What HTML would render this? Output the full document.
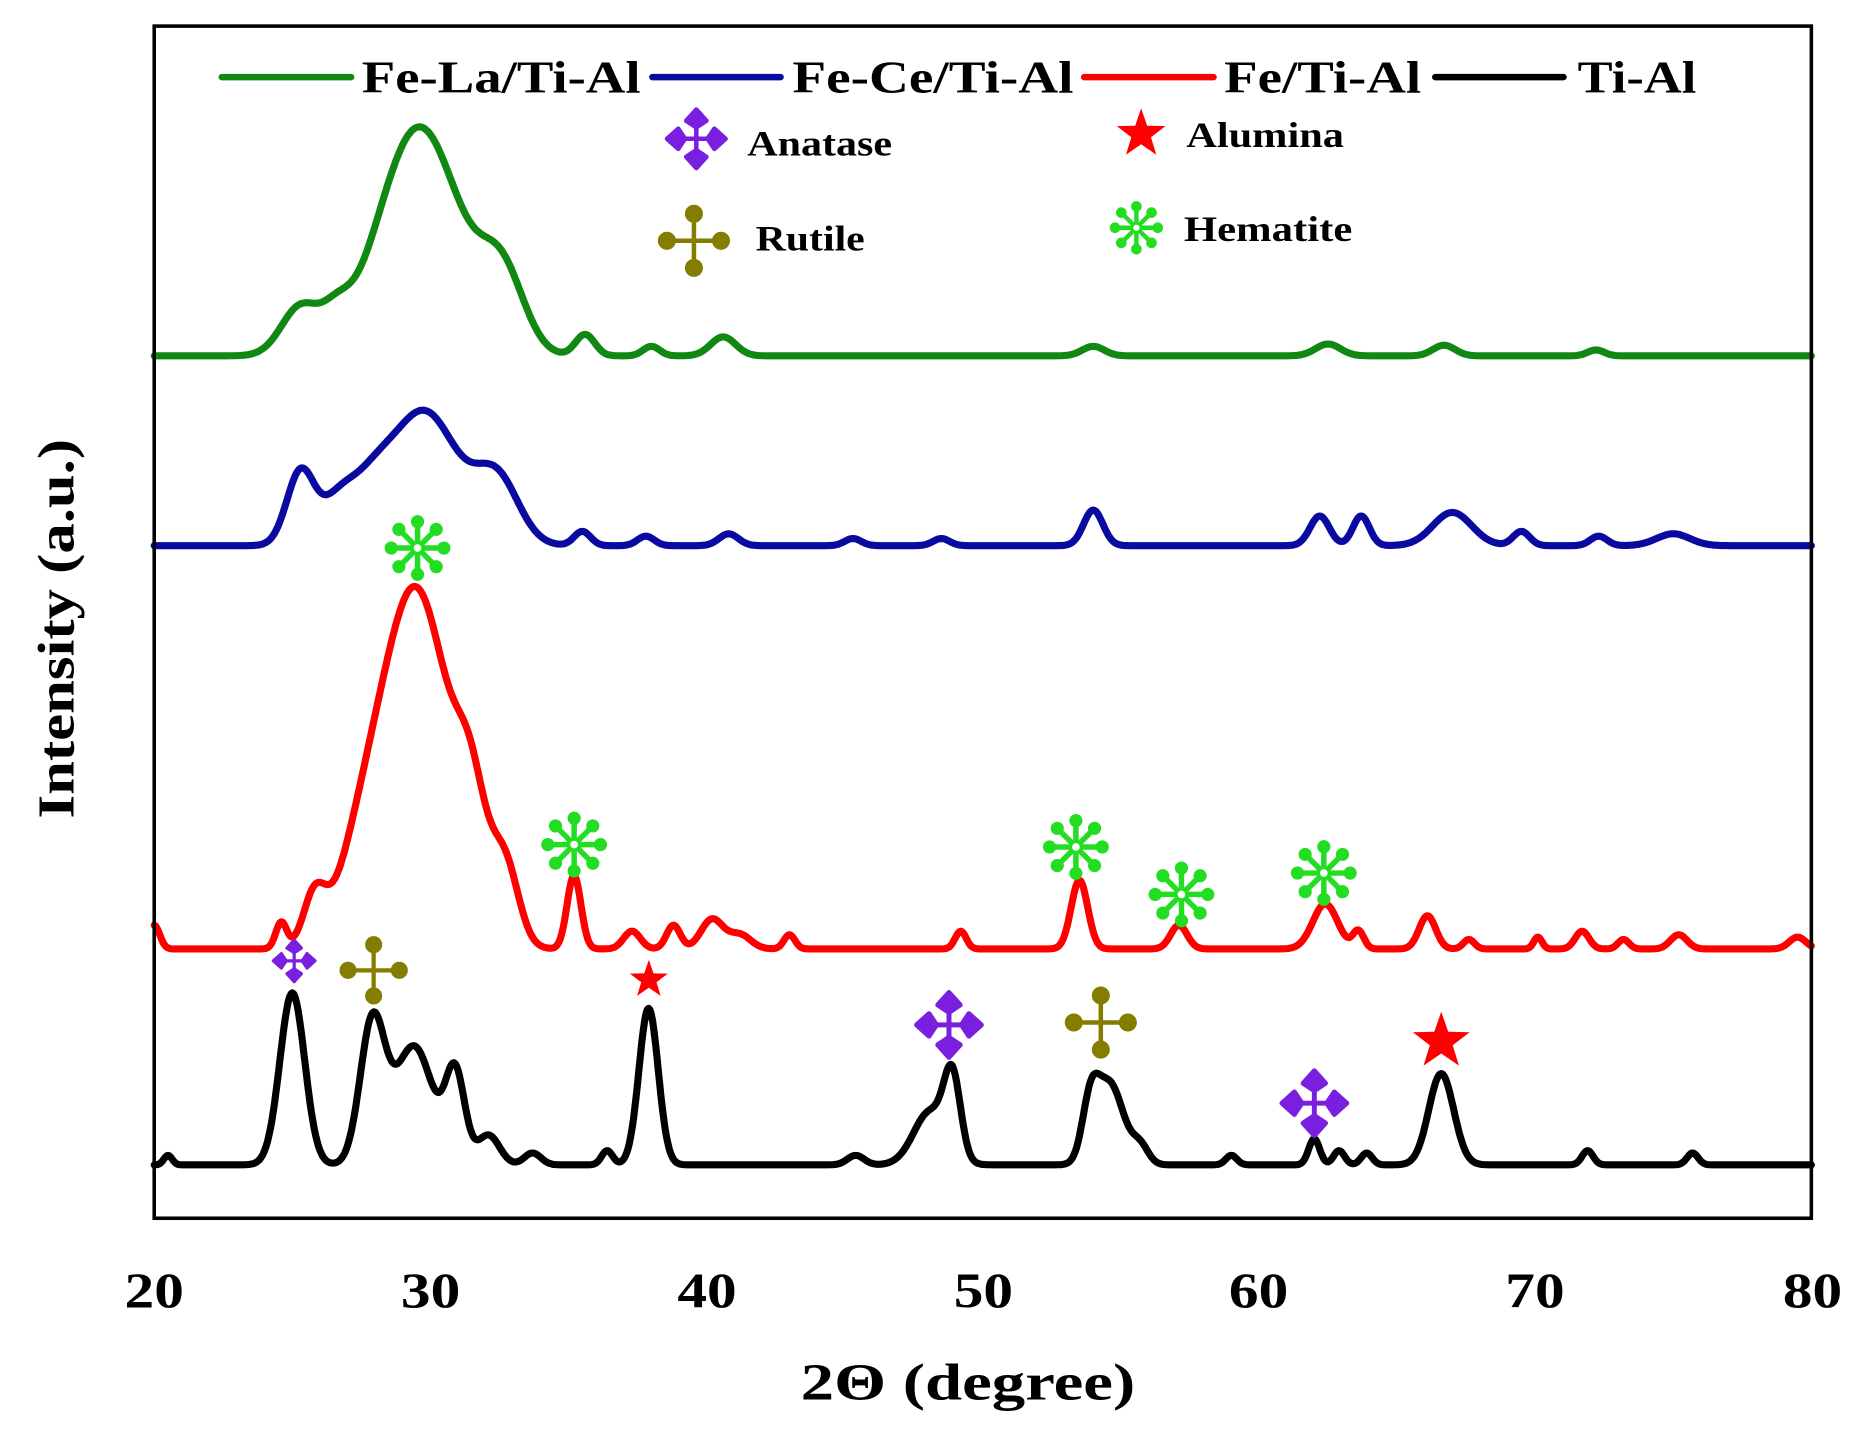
<!DOCTYPE html>
<html><head><meta charset="utf-8"><style>
html,body{margin:0;padding:0;background:#fff;}
svg{display:block;}
text{font-family:"Liberation Serif",serif;font-weight:bold;fill:#000;}
</style></head><body>
<svg id="s" width="1860" height="1441" viewBox="0 0 1860 1441" xmlns="http://www.w3.org/2000/svg">
<defs>
<g id="hem" fill="#22dd22" stroke="#22dd22">
<g stroke-width="2.5"><line x1="-11" y1="0" x2="11" y2="0"/><line x1="0" y1="-11" x2="0" y2="11"/><line x1="-8" y1="-8" x2="8" y2="8"/><line x1="-8" y1="8" x2="8" y2="-8"/></g>
<circle cx="-12" cy="0" r="3" stroke="none"/><circle cx="12" cy="0" r="3" stroke="none"/><circle cx="0" cy="-12" r="3" stroke="none"/><circle cx="0" cy="12" r="3" stroke="none"/>
<circle cx="-8.5" cy="-8.5" r="3" stroke="none"/><circle cx="8.5" cy="8.5" r="3" stroke="none"/><circle cx="-8.5" cy="8.5" r="3" stroke="none"/><circle cx="8.5" cy="-8.5" r="3" stroke="none"/>
<circle cx="0" cy="0" r="2.5" fill="#fff" stroke="#22dd22" stroke-width="1.5"/>
</g>
<g id="ana" fill="#7a1fe0" stroke="#7a1fe0">
<line x1="-12" y1="0" x2="12" y2="0" stroke-width="2"/><line x1="0" y1="-12" x2="0" y2="12" stroke-width="2"/>
<path d="M-13 0 L-8 -4.5 L-5 0 L-8 4.5Z M13 0 L8 -4.5 L5 0 L8 4.5Z M0 -13 L-4.5 -8 L0 -5 L4.5 -8Z M0 13 L-4.5 8 L0 5 L4.5 8Z" stroke-width="2" stroke-linejoin="round"/>
</g>
<g id="rut" fill="#857d00" stroke="#857d00">
<line x1="-12" y1="0" x2="12" y2="0" stroke-width="2"/><line x1="0" y1="-12" x2="0" y2="12" stroke-width="2"/>
<circle cx="-12" cy="0" r="3.5"/><circle cx="12" cy="0" r="3.5"/><circle cx="0" cy="-12" r="3.5"/><circle cx="0" cy="12" r="3.5"/>
</g>
<path id="star" fill="#ff0000" d="M0,-12 L2.8,-3.9 L11.4,-3.7 L4.6,1.5 L7.1,9.7 L0,4.8 L-7.1,9.7 L-4.6,1.5 L-11.4,-3.7 L-2.8,-3.9Z"/>
</defs>
<g transform="scale(1.18622)">
<g id="curves" fill="none" stroke-width="6" stroke-linejoin="round" stroke-linecap="round"></g>
<rect x="130" y="22" width="1397" height="1005" fill="none" stroke="#000" stroke-width="3"/>
<g font-size="42">
<text x="105" y="1102" textLength="50" lengthAdjust="spacingAndGlyphs">20</text>
<text x="338" y="1102" textLength="50" lengthAdjust="spacingAndGlyphs">30</text>
<text x="571" y="1102" textLength="50" lengthAdjust="spacingAndGlyphs">40</text>
<text x="804" y="1102" textLength="50" lengthAdjust="spacingAndGlyphs">50</text>
<text x="1036" y="1102" textLength="50" lengthAdjust="spacingAndGlyphs">60</text>
<text x="1269" y="1102" textLength="50" lengthAdjust="spacingAndGlyphs">70</text>
<text x="1503" y="1102" textLength="50" lengthAdjust="spacingAndGlyphs">80</text>
</g>
<text x="675" y="1180" font-size="44" textLength="282" lengthAdjust="spacingAndGlyphs">2Θ (degree)</text>
<text transform="translate(62,690) rotate(-90)" font-size="44" textLength="320" lengthAdjust="spacingAndGlyphs">Intensity (a.u.)</text>
<g stroke-width="5.5" stroke-linecap="round">
<line x1="187" y1="65" x2="296" y2="65" stroke="#118811"/>
<line x1="550" y1="65" x2="658" y2="65" stroke="#0a0aa0"/>
<line x1="914" y1="65" x2="1023" y2="65" stroke="#ff0000"/>
<line x1="1210" y1="65" x2="1318" y2="65" stroke="#000"/>
</g>
<g font-size="38">
<text x="305" y="78" textLength="235" lengthAdjust="spacingAndGlyphs">Fe-La/Ti-Al</text>
<text x="668" y="78" textLength="237" lengthAdjust="spacingAndGlyphs">Fe-Ce/Ti-Al</text>
<text x="1032" y="78" textLength="166" lengthAdjust="spacingAndGlyphs">Fe/Ti-Al</text>
<text x="1330" y="78" textLength="100" lengthAdjust="spacingAndGlyphs">Ti-Al</text>
</g>
<g font-size="30">
<text x="630" y="131" textLength="122" lengthAdjust="spacingAndGlyphs">Anatase</text>
<text x="1000" y="124" textLength="133" lengthAdjust="spacingAndGlyphs">Alumina</text>
<text x="637" y="211" textLength="92" lengthAdjust="spacingAndGlyphs">Rutile</text>
<text x="998" y="203" textLength="142" lengthAdjust="spacingAndGlyphs">Hematite</text>
</g>
<use href="#ana" transform="translate(587,117) scale(1.9)"/>
<use href="#star" transform="translate(962,113) scale(1.8)"/>
<use href="#rut" transform="translate(585,203) scale(1.9)"/>
<use href="#hem" transform="translate(958,192) scale(1.5)"/>
<use href="#hem" transform="translate(352,462) scale(1.85)"/>
<use href="#hem" transform="translate(484,712) scale(1.85)"/>
<use href="#hem" transform="translate(907,714) scale(1.85)"/>
<use href="#hem" transform="translate(996,754) scale(1.85)"/>
<use href="#hem" transform="translate(1116,736) scale(1.85)"/>
<use href="#ana" transform="translate(248,810) scale(1.35)"/>
<use href="#ana" transform="translate(800,864) scale(2.1)"/>
<use href="#ana" transform="translate(1108,930) scale(2.1)"/>
<use href="#rut" transform="translate(315,818) scale(1.8)"/>
<use href="#rut" transform="translate(928,862) scale(1.9)"/>
<use href="#star" transform="translate(547,826) scale(1.4)"/>
<use href="#star" transform="translate(1215,878) scale(2.1)"/>
</g>
<script>
(function(){
var series=[
{c:"#118811",b:300,p:[[25.3,40,0.7],[26.6,20,0.5],[29.6,193,1.5],[32.6,62,0.8],[35.6,18,0.35],[38,8,0.3],[40.6,16,0.45],[54,8,0.4],[62.5,10,0.45],[66.7,9,0.4],[72.2,5,0.3]]},
{c:"#0a0aa0",b:460,p:[[25.3,62,0.5],[26.6,30,0.6],[27.8,40,0.8],[29.8,112,1.2],[32.4,55,0.8],[35.5,12,0.3],[37.8,8,0.3],[40.8,10,0.35],[45.3,6,0.3],[48.5,6,0.3],[54,30,0.35],[62.2,25,0.35],[63.7,25,0.3],[67,28,0.7],[69.5,12,0.3],[72.3,8,0.3],[75,10,0.6]]},
{c:"#ff0000",b:800,p:[[20,20,0.2],[24.6,22,0.2],[25.8,40,0.4],[27.5,60,0.9],[29.5,300,1.25],[31.5,85,0.55],[32.7,65,0.5],[35.2,62,0.25],[37.3,15,0.3],[38.8,20,0.25],[40.2,25,0.4],[41.2,12,0.4],[43,12,0.2],[49.2,15,0.2],[53.5,58,0.3],[57.1,20,0.3],[62.4,38,0.45],[63.6,15,0.2],[66.1,28,0.3],[67.6,8,0.2],[70.1,10,0.15],[71.7,15,0.25],[73.2,8,0.2],[75.2,12,0.3],[79.5,10,0.3]]},
{c:"#000000",b:982,p:[[20.5,8,0.15],[25,145,0.45],[27.9,118,0.45],[29.4,100,0.7],[30.9,75,0.35],[32.1,25,0.4],[33.7,10,0.3],[36.4,12,0.2],[37.9,132,0.35],[45.4,8,0.3],[48.1,45,0.6],[48.9,65,0.3],[53.9,45,0.3],[54.6,68,0.5],[55.7,15,0.3],[59,8,0.2],[62,22,0.2],[62.9,12,0.2],[63.9,10,0.2],[66.6,77,0.45],[71.9,12,0.2],[75.7,10,0.2]]}
];
var g=document.getElementById("curves"),ns="http://www.w3.org/2000/svg";
series.forEach(function(s){
var pts=[];
for(var d=20;d<=80.001;d+=0.05){
var y=0;s.p.forEach(function(q){var t=(d-q[0])/q[2];y+=q[1]*Math.exp(-0.5*t*t);});
pts.push((130+(d-20)*23.283).toFixed(1)+","+(s.b-y).toFixed(1));}
var pl=document.createElementNS(ns,"polyline");
pl.setAttribute("points",pts.join(" "));pl.setAttribute("stroke",s.c);g.appendChild(pl);
});
})();
</script>
</svg>
</body></html>
